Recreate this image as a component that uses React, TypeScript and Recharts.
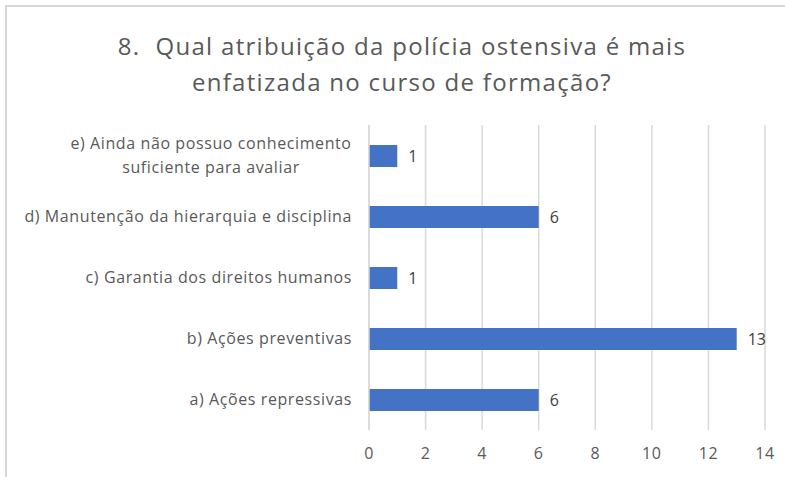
import { BarChart, Bar, XAxis, YAxis, CartesianGrid, LabelList } from 'recharts';

const categories = [
  'e) Ainda não possuo conhecimento|suficiente para avaliar',
  'd) Manutenção da hierarquia e disciplina',
  'c) Garantia dos direitos humanos',
  'b) Ações preventivas',
  'a) Ações repressivas',
];
const counts = [1, 6, 1, 13, 6];
const xTicks = [0, 2, 4, 6, 8, 10, 12, 14];
const titleLines = ['8.  Qual atribuição da polícia ostensiva é mais', 'enfatizada no curso de formação?'];

const data = categories.map((c, i) => ({ name: c, value: counts[i] }));

const FONT = "'Open Sans', sans-serif";
const GREY = '#595959';

function CategoryTick({ x, y, payload }: any) {
  const lines = String(payload.value).split('|');
  if (lines.length === 1) {
    return (
      <text x={x} y={y} dy={5} textAnchor="end" fill={GREY} fontSize={16} letterSpacing={0.6} fontFamily={FONT}>
        {lines[0]}
      </text>
    );
  }
  // multi-line labels are centred as a block, right-aligned to the axis
  const cx = x - 141;
  return (
    <text x={cx} y={y} textAnchor="middle" fill={GREY} fontSize={16} letterSpacing={0.6} fontFamily={FONT}>
      {lines.map((l, i) => (
        <tspan key={i} x={cx} dy={i === 0 ? -7 : 24}>{l}</tspan>
      ))}
    </text>
  );
}

export default function App() {
  return (
    <div style={{ position: 'absolute', left: 0, top: 0, width: 785, height: 477, overflow: 'hidden', background: '#fff' }}>
      <div
        style={{
          position: 'absolute', left: 5, top: 5, width: 800, height: 500,
          border: '2px solid #d6d6d6', boxSizing: 'border-box',
        }}
      />
      <div
        style={{
          position: 'absolute', left: 0, top: 28, width: 804, textAlign: 'center',
          fontFamily: FONT, fontSize: 24, letterSpacing: 1.3, lineHeight: '36px', color: GREY,
        }}
      >
        {titleLines.map((t, i) => (
          <div key={i} style={{ whiteSpace: 'pre' }}>{t}</div>
        ))}
      </div>
      <div style={{ position: 'absolute', left: 0, top: 0 }}>
        <BarChart
          width={785}
          height={477}
          data={data}
          layout="vertical"
          margin={{ top: 125, right: 20, bottom: 17, left: 0 }}
          barCategoryGap={20}
        >
          <CartesianGrid horizontal={false} stroke="#d9d9d9" strokeWidth={1.5} />
          <XAxis
            type="number"
            domain={[0, 14]}
            ticks={xTicks}
            axisLine={false}
            tickLine={false}
            height={30}
            tickMargin={12}
            tick={{ fill: GREY, fontSize: 16, fontFamily: FONT, letterSpacing: 0.6 }}
          />
          <YAxis
            type="category"
            dataKey="name"
            width={369}
            axisLine={{ stroke: '#d9d9d9', strokeWidth: 1.5 }}
            tickLine={false}
            tickMargin={11}
            tick={<CategoryTick />}
          />
          <Bar dataKey="value" fill="#4472C4" barSize={22} isAnimationActive={false}>
            <LabelList dataKey="value" position="right" offset={11} fill="#404040" fontSize={16} fontFamily={FONT} />
          </Bar>
        </BarChart>
      </div>
    </div>
  );
}
